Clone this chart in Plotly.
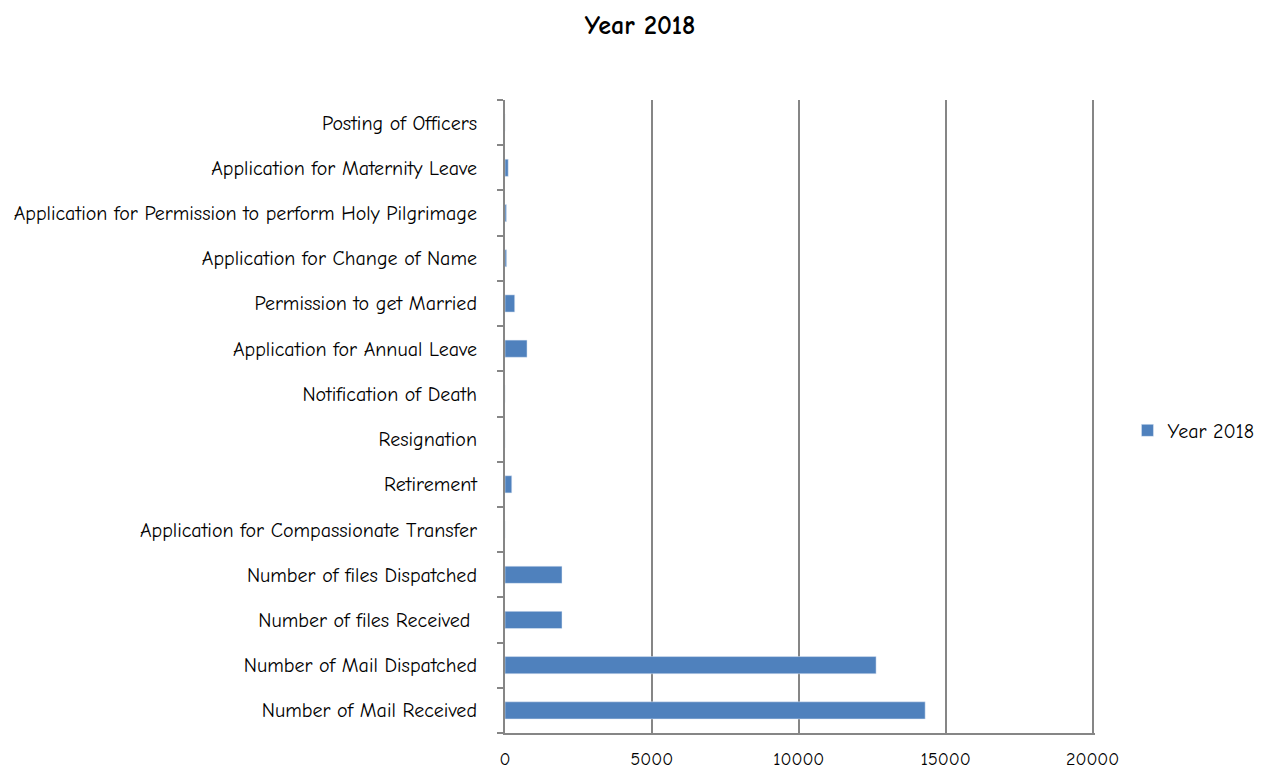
import plotly.graph_objects as go

# categories bottom -> top, as in the chart
categories = ['Number of Mail Received', 'Number of Mail Dispatched',
              'Number of files Received ', 'Number of files Dispatched',
              'Application for Compassionate Transfer', 'Retirement',
              'Resignation', 'Notification of Death',
              'Application for Annual Leave', 'Permission to get Married',
              'Application for Change of Name',
              'Application for Permission to perform Holy Pilgrimage',
              'Application for Maternity Leave', 'Posting of Officers']
year_2018 = [14300, 12630, 1940, 1940, 0, 230, 0, 0, 750, 330, 55, 50, 110, 0]
x_ticks = [0, 5000, 10000, 15000, 20000]
x_labels = ['0', '5000', '10000', '15000', '20000']

font_family = "Comic Sans MS, Comic Neue, DejaVu Sans, sans-serif"
grey = '#868686'

fig = go.Figure()
fig.add_trace(go.Bar(y=categories, x=year_2018, orientation='h',
                     name='Year 2018', marker_color='#4f81bd',
                     width=0.38, showlegend=True))

# page body has an 8px margin, so the figure starts at (8, 8)
fig.update_layout(
    title=dict(text='<b>Year 2018</b>', x=0.5036, y=0.978, xanchor='center',
               yanchor='middle',
               font=dict(size=26, color='black', family=font_family)),
    width=1255, height=761,
    margin=dict(l=497, r=168, t=92, b=36),
    plot_bgcolor='white', paper_bgcolor='white',
    font=dict(family=font_family, size=20, color='black'),
    legend=dict(x=0.892, y=0.445, xref='container', yref='container',
                xanchor='left', yanchor='middle',
                font=dict(size=20), itemwidth=30),
    bargap=0.6,
)
fig.update_xaxes(range=[0, 20080], tickvals=x_ticks, ticktext=x_labels,
                 showgrid=True, automargin=False,
                 gridcolor=grey, gridwidth=2, showline=True,
                 linecolor=grey, linewidth=2, zeroline=False,
                 ticks='', ticklabelstandoff=8, tickfont=dict(size=18))
fig.update_yaxes(type='category', categoryorder='array', automargin=False,
                 categoryarray=categories, showline=True, linecolor=grey,
                 linewidth=2, ticks='outside', tickson='boundaries',
                 ticklen=6, tickcolor=grey, tickwidth=2, ticklabelstandoff=22,
                 showgrid=False, tickfont=dict(size=20))

fig.write_html("out.html")
